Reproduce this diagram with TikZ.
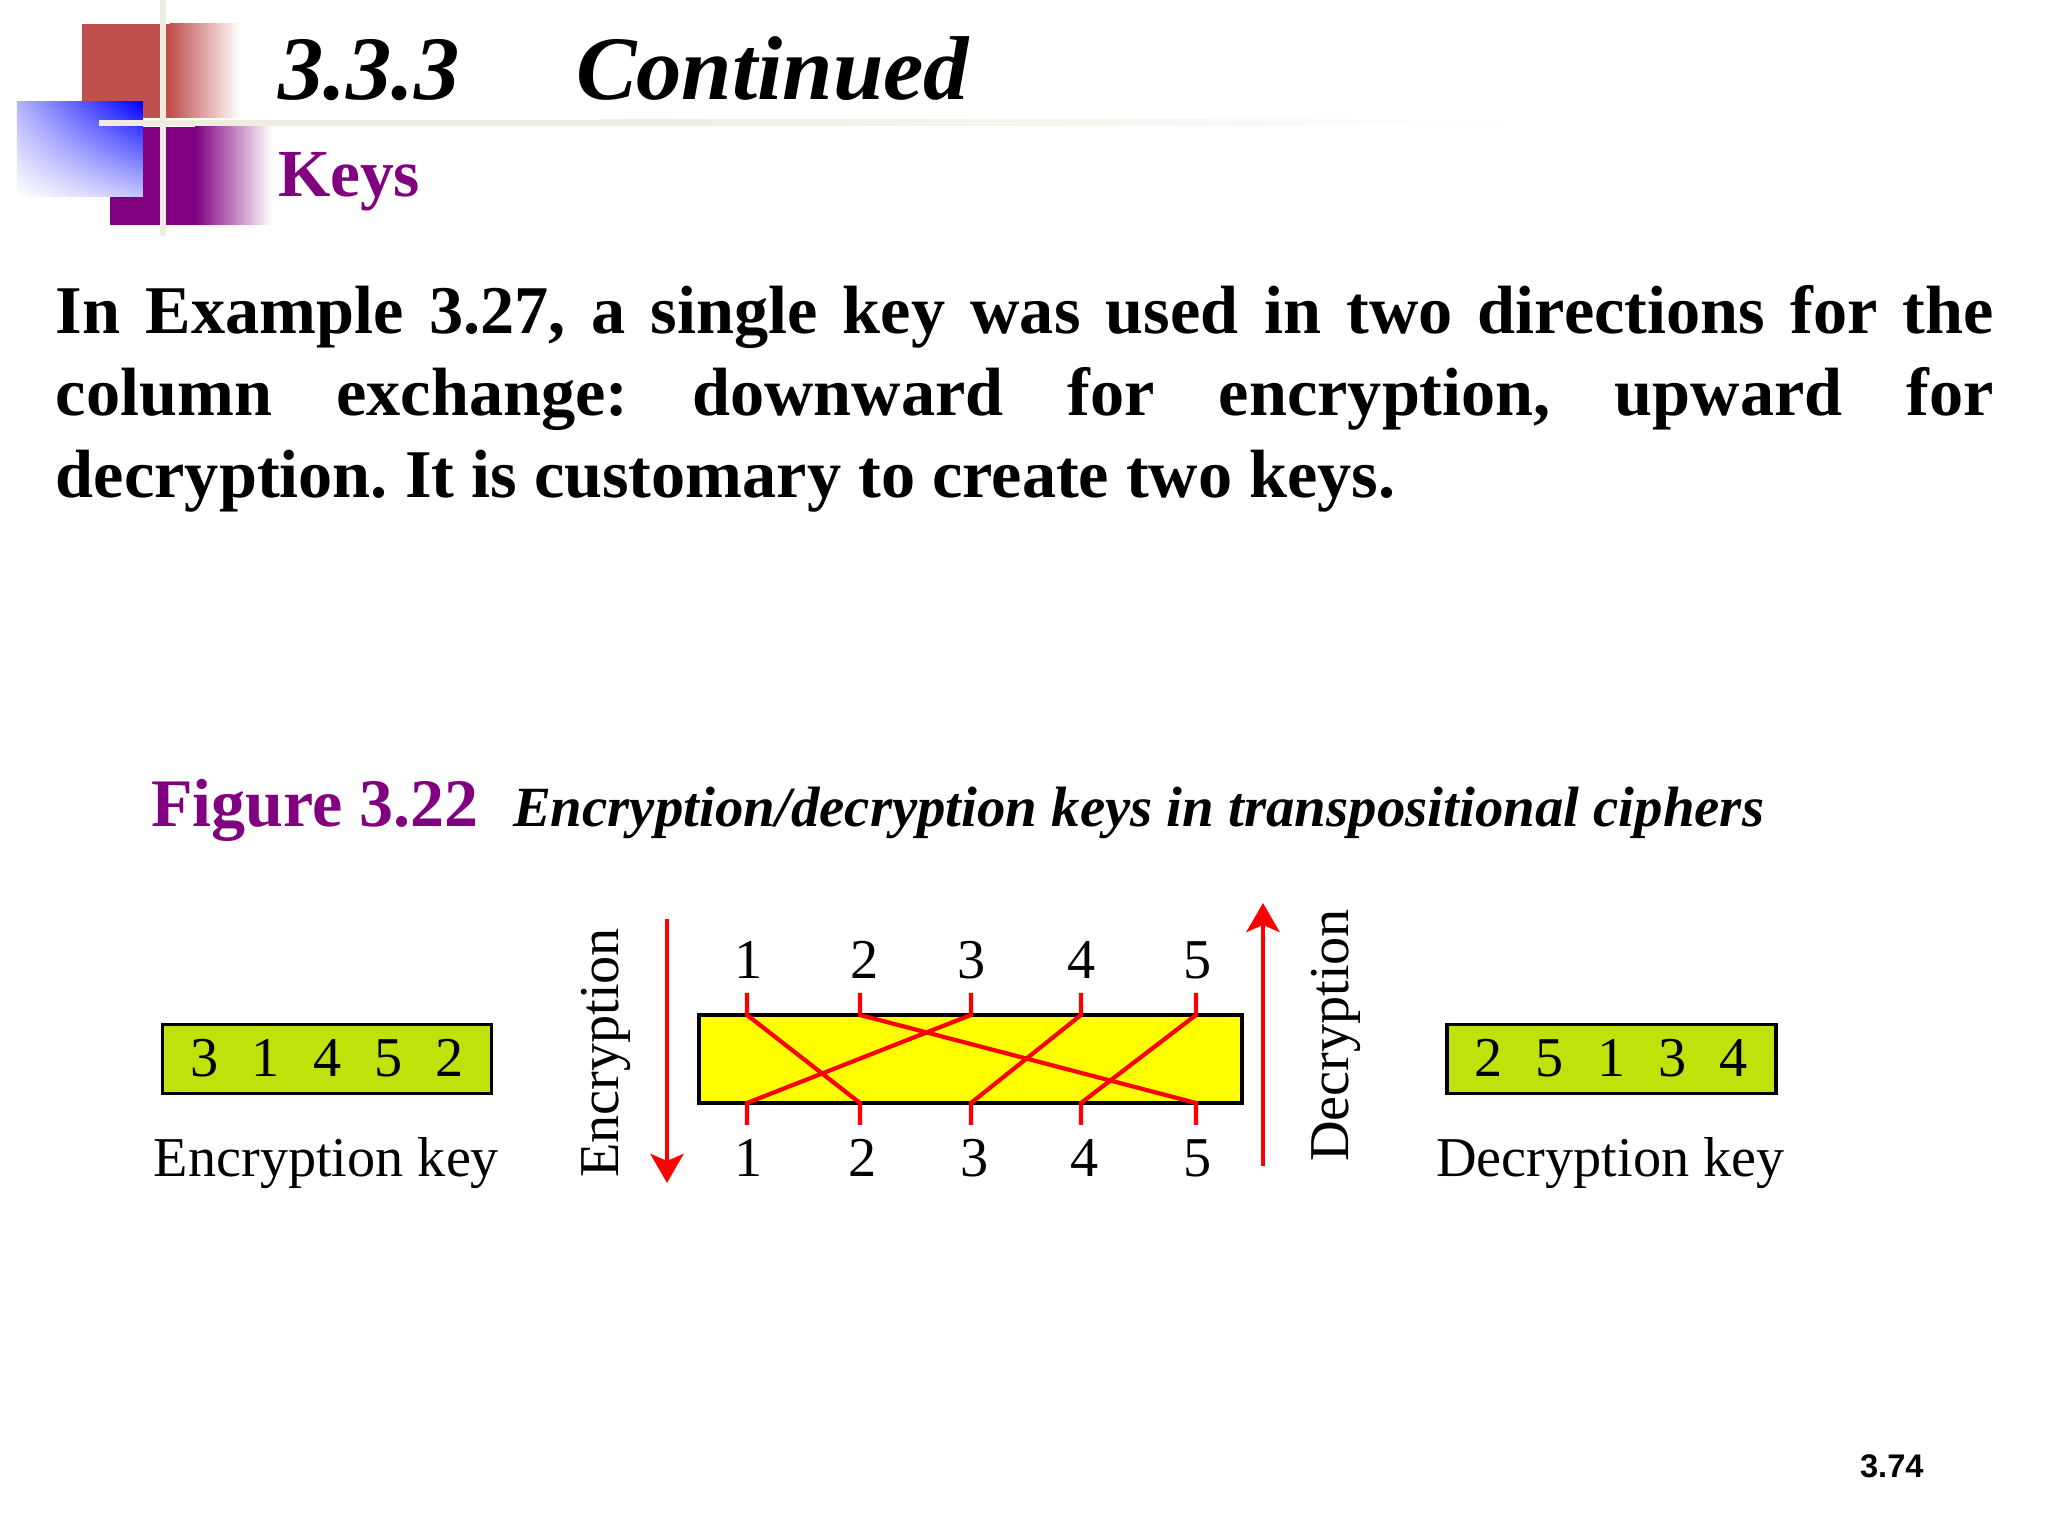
\documentclass[tikz,border=0pt]{standalone}
\usepackage{fontspec}
\usepackage{tikz}
\usetikzlibrary{arrows.meta, shadings}
\setmainfont{Liberation Serif}
\newfontfamily\pagefont{Liberation Sans}
\definecolor{keygreen}{HTML}{C0E20A}
\definecolor{boxyellow}{HTML}{FFFF00}
\definecolor{barcream}{HTML}{EEECE1}
\definecolor{logored}{HTML}{C0504D}
\definecolor{headpurple}{HTML}{800080}
\tikzset{
    every node/.style={inner sep=0pt, outer sep=0pt, font=\fontsize{16}{19}\selectfont}
}
\tikzset{
    digit/.style={anchor=base},
    keybox/.style={draw, line width=1pt, fill=keygreen, minimum width=3.29cm, minimum height=.69cm},
    wire/.style={red, line width=1.2pt},
    flow/.style={red, line width=1.4pt, -{Stealth[length=.29cm, width=.33cm, inset=.07cm]}}
}
\begin{document}
\begin{tikzpicture}
  \useasboundingbox (0cm, 0cm) rectangle (20.48cm, 15.36cm);

  % logo
  \fill [logored] (.82cm, 14.18cm) rectangle (1.70cm, 15.12cm);
  \shade [left color=logored, right color=white] (1.70cm, 14.18cm) rectangle (2.40cm, 15.12cm);
  \fill [headpurple] (1.10cm, 13.11cm) rectangle (1.95cm, 14.09cm);
  \shade [left color=headpurple, right color=white] (1.95cm, 13.11cm) rectangle (2.72cm, 14.09cm);
  \shade [upper right=blue, upper left=blue!30, lower right=blue!22, lower left=white] (.17cm, 13.39cm) rectangle (1.43cm, 14.34cm);
  \fill [barcream] (1.60cm, 13.00cm) rectangle (1.66cm, 15.36cm);
  \fill [barcream] (.99cm, 14.10cm) rectangle (6cm, 14.16cm);
  \shade [left color=barcream, right color=white] (6cm, 14.10cm) rectangle (15.3cm, 14.16cm);

  % heading
  \node (num) [anchor=base west, font=\fontsize{25.8}{30}\bfseries\itshape\selectfont] at (2.78cm, 14.36cm) {3.3.3};
  \node (cont) [anchor=base west, font=\fontsize{25.8}{30}\bfseries\itshape\selectfont] at (5.76cm, 14.36cm) {Continued};
  \node (keys) [anchor=base west, text=headpurple, font=\fontsize{19.15}{24}\bfseries\selectfont] at (2.78cm, 13.39cm) {Keys};
  \node (para) [anchor=north west, text width=19.38cm, align=justify, font=\fontsize{19.43}{23.4}\bfseries\selectfont] at (.56cm, 12.51cm)
    {\frenchspacing In Example 3.27, a single key was used in two directions for the\linebreak
     column exchange: downward for encryption, upward for\linebreak
     decryption. It is customary to create two keys.};

  % caption
  \node (fig) [anchor=base west, text=headpurple, font=\fontsize{19.35}{24}\bfseries\selectfont] at (1.51cm, 7.09cm) {Figure 3.22};
  \node (cap) [anchor=base west, font=\fontsize{16.18}{19}\bfseries\itshape\selectfont] at (5.13cm, 7.09cm) {Encryption/decryption keys in transpositional ciphers};

  % encryption key
  \node (enc) [keybox] at (3.27cm, 4.77cm) {};
  \node (e1) [digit] at (2.045cm, 4.59cm) {3};
  \node (e2) [digit] at (2.655cm, 4.59cm) {1};
  \node (e3) [digit] at (3.28cm, 4.59cm) {4};
  \node (e4) [digit] at (3.885cm, 4.59cm) {5};
  \node (e5) [digit] at (4.495cm, 4.59cm) {2};
  \node (enclab) [digit] at (3.265cm, 3.59cm) {Encryption key};

  % decryption key
  \node (dec) [keybox] at (16.115cm, 4.77cm) {};
  \node (d1) [digit] at (14.885cm, 4.59cm) {2};
  \node (d2) [digit] at (15.50cm, 4.59cm) {5};
  \node (d3) [digit] at (16.115cm, 4.59cm) {1};
  \node (d4) [digit] at (16.725cm, 4.59cm) {3};
  \node (d5) [digit] at (17.335cm, 4.59cm) {4};
  \node (declab) [digit] at (16.105cm, 3.59cm) {Decryption key};

  % direction labels
  \node (enctxt) [anchor=base west, rotate=90] at (6.18cm, 3.58cm) {Encryption};
  \node (dectxt) [anchor=base west, rotate=90] at (13.48cm, 3.74cm) {Decryption};

  % cipher box
  \node (cipher) [draw, line width=1pt, fill=boxyellow, minimum width=5.43cm, minimum height=.88cm] at (9.705cm, 4.77cm) {};

  \node (t1) [digit] at (7.485cm, 5.57cm) {1};
  \node (t2) [digit] at (8.65cm, 5.57cm) {2};
  \node (t3) [digit] at (9.715cm, 5.57cm) {3};
  \node (t4) [digit] at (10.82cm, 5.57cm) {4};
  \node (t5) [digit] at (11.975cm, 5.57cm) {5};
  \node (b1) [digit] at (7.485cm, 3.59cm) {1};
  \node (b2) [digit] at (8.63cm, 3.59cm) {2};
  \node (b3) [digit] at (9.75cm, 3.59cm) {3};
  \node (b4) [digit] at (10.85cm, 3.59cm) {4};
  \node (b5) [digit] at (11.975cm, 3.59cm) {5};

  \coordinate (ta1) at (7.47cm, 5.43cm);
  \coordinate (ta2) at (8.60cm, 5.43cm);
  \coordinate (ta3) at (9.71cm, 5.43cm);
  \coordinate (ta4) at (10.81cm, 5.43cm);
  \coordinate (ta5) at (11.96cm, 5.43cm);
  \coordinate (tb1) at (7.47cm, 5.21cm);
  \coordinate (tb2) at (8.60cm, 5.21cm);
  \coordinate (tb3) at (9.71cm, 5.21cm);
  \coordinate (tb4) at (10.81cm, 5.21cm);
  \coordinate (tb5) at (11.96cm, 5.21cm);
  \coordinate (ba1) at (7.47cm, 4.33cm);
  \coordinate (ba2) at (8.60cm, 4.33cm);
  \coordinate (ba3) at (9.71cm, 4.33cm);
  \coordinate (ba4) at (10.81cm, 4.33cm);
  \coordinate (ba5) at (11.96cm, 4.33cm);
  \coordinate (bb1) at (7.47cm, 4.11cm);
  \coordinate (bb2) at (8.60cm, 4.11cm);
  \coordinate (bb3) at (9.71cm, 4.11cm);
  \coordinate (bb4) at (10.81cm, 4.11cm);
  \coordinate (bb5) at (11.96cm, 4.11cm);

  \draw [wire] (ta1) -- (tb1) -- (ba2) -- (bb2);
  \draw [wire] (ta2) -- (tb2) -- (ba5) -- (bb5);
  \draw [wire] (ta3) -- (tb3) -- (ba1) -- (bb1);
  \draw [wire] (ta4) -- (tb4) -- (ba3) -- (bb3);
  \draw [wire] (ta5) -- (tb5) -- (ba4) -- (bb4);

  % direction arrows
  \coordinate (enctop) at (6.67cm, 6.17cm);
  \coordinate (encend) at (6.67cm, 3.53cm);
  \coordinate (decbot) at (12.63cm, 3.70cm);
  \coordinate (decend) at (12.63cm, 6.33cm);
  \draw [flow] (enctop) -- (encend);
  \draw [flow] (decbot) -- (decend);

  \node (pageno) [anchor=base west, font=\fontsize{9.3}{11}\bfseries\pagefont] at (18.60cm, .58cm) {3.74};
\end{tikzpicture}
\end{document}
